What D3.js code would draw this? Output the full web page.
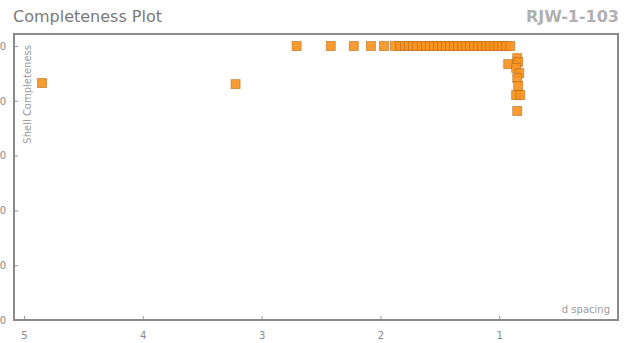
<!DOCTYPE html>
<html>
<head>
<meta charset="utf-8">
<script src="https://cdn.jsdelivr.net/npm/d3@7"></script>
<style>
  html, body { margin: 0; padding: 0; background: #fff; }
  svg { display: block; font-family: "DejaVu Sans", sans-serif; }
</style>
</head>
<body>
<svg id="chart" width="636" height="343"></svg>
<script>
// Shell completeness (%) per resolution shell, by d spacing (Å)
const dSpacing = [
  4.848, 3.219,
  2.705, 2.418, 2.224, 2.080, 1.970, 1.878, 1.835, 1.793, 1.759, 1.726,
  1.692, 1.650, 1.616, 1.582, 1.549, 1.515, 1.481, 1.447, 1.414, 1.380,
  1.346, 1.312, 1.278, 1.245, 1.211, 1.177, 1.143, 1.110, 1.076, 1.042,
  1.008, 0.975, 0.941, 0.907,
  0.924, 0.848, 0.840, 0.857, 0.831, 0.848, 0.840, 0.857, 0.823, 0.848
];
const completeness = [
  86.5, 86.1,
  100, 100, 100, 100, 100, 100, 100, 100, 100, 100,
  100, 100, 100, 100, 100, 100, 100, 100, 100, 100,
  100, 100, 100, 100, 100, 100, 100, 100, 100, 100,
  100, 100, 100, 100,
  93.4, 95.6, 94.2, 92.0, 90.1, 88.3, 85.4, 82.1, 82.1, 76.3
];
const xTicks = [5, 4, 3, 2, 1];
const yTicks = [0, 20, 40, 60, 80, 100];
const chartTitle = "Completeness Plot";
const sampleName = "RJW-1-103";
const xLabel = "d spacing";
const yLabel = "Shell Completeness";

const points = dSpacing.map((d, i) => ({ d, c: completeness[i] }));

const svg = d3.select("#chart");
const plot = { left: 14, top: 34, right: 618, bottom: 320 };

const x = d3.scaleLinear().domain([5.084, 0]).range([plot.left, plot.right]);
const y = d3.scaleLinear().domain([0, 104.4]).range([plot.bottom, plot.top]);

// Titles
svg.append("text")
  .attr("x", 13).attr("y", 22)
  .attr("fill", "#7a7a7a").attr("font-size", 16)
  .text(chartTitle);
svg.append("text")
  .attr("x", 619).attr("y", 22)
  .attr("text-anchor", "end")
  .attr("fill", "#b0b0b0").attr("font-size", 16).attr("font-weight", "bold")
  .text(sampleName);

// X axis: ticks point inward, labels below the frame
const xAxis = d3.axisBottom(x).tickValues(xTicks).tickFormat(d3.format("d"))
  .tickSizeInner(-4).tickSizeOuter(0).tickPadding(12);
const gx = svg.append("g").attr("transform", `translate(0,${plot.bottom})`).call(xAxis);
gx.select(".domain").remove();
gx.selectAll(".tick line").attr("stroke", "#999");
gx.selectAll(".tick text").attr("fill", "#888").attr("font-size", 10)
  .attr("font-family", "DejaVu Sans, sans-serif");

// Y axis: ticks point inward, labels to the left (partly outside the page)
const yAxis = d3.axisLeft(y).tickValues(yTicks).tickFormat(d3.format("d"))
  .tickSizeInner(-4).tickSizeOuter(0).tickPadding(8);
const gy = svg.append("g").attr("transform", `translate(${plot.left},0)`).call(yAxis);
gy.select(".domain").remove();
gy.selectAll(".tick line").attr("stroke", "#999");
gy.selectAll(".tick text").attr("fill", "#888").attr("font-size", 10)
  .attr("font-family", "DejaVu Sans, sans-serif");

// Plot frame
svg.append("rect")
  .attr("x", plot.left).attr("y", plot.top)
  .attr("width", plot.right - plot.left).attr("height", plot.bottom - plot.top)
  .attr("fill", "none").attr("stroke", "#8a8a8a").attr("stroke-width", 2);

// Axis titles inside the frame
svg.append("text")
  .attr("transform", `translate(31,${plot.top + 11}) rotate(-90)`)
  .attr("text-anchor", "end")
  .attr("fill", "#9a9a9a").attr("font-size", 10)
  .text(yLabel);
svg.append("text")
  .attr("x", 610).attr("y", 313)
  .attr("text-anchor", "end")
  .attr("fill", "#9a9a9a").attr("font-size", 10)
  .text(xLabel);

// Square markers
const s = 9;
svg.append("g").selectAll("rect")
  .data(points)
  .join("rect")
  .attr("x", p => x(p.d) - s / 2)
  .attr("y", p => y(p.c) - s / 2)
  .attr("width", s).attr("height", s)
  .attr("fill", "#f7931e").attr("fill-opacity", 0.92)
  .attr("stroke", "#b56a1c").attr("stroke-opacity", 0.7).attr("stroke-width", 0.8);
</script>
</body>
</html>
